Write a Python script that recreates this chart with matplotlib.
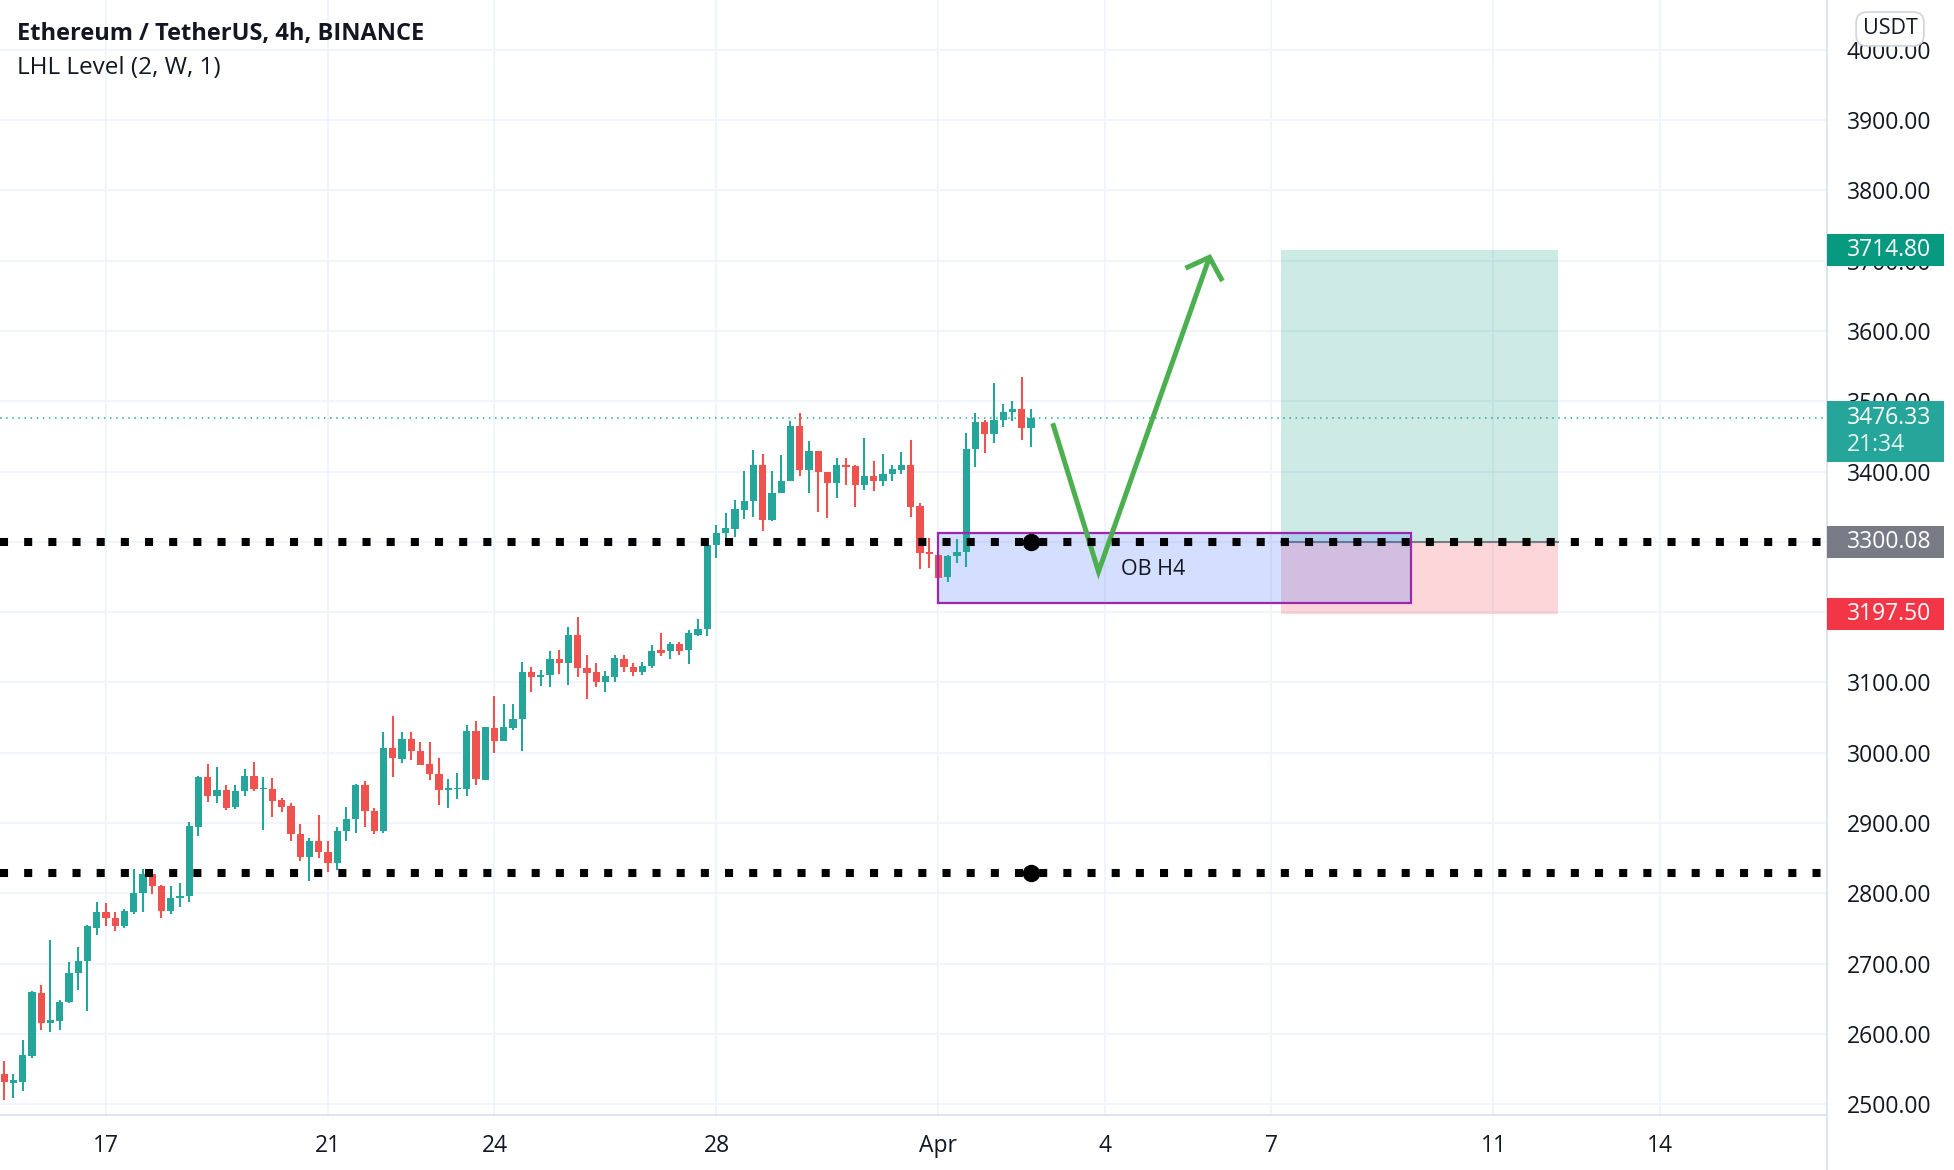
import matplotlib
matplotlib.use("Agg")
import matplotlib.pyplot as plt
import matplotlib.dates as mdates
import matplotlib.transforms as mtransforms
from matplotlib.patches import Rectangle
from matplotlib.lines import Line2D
import pandas as pd

plt.rcParams['font.family'] = ['Open Sans', 'DejaVu Sans']

# ETH/USDT 4h candles
opens = [2543, 2530, 2532, 2569, 2658, 2616, 2619, 2645, 2686, 2703, 2751,
         2773, 2765, 2754, 2773, 2800, 2828, 2811, 2775, 2793, 2796, 2895,
         2965, 2938, 2947, 2923, 2945, 2967, 2948, 2949, 2933, 2924, 2885,
         2852, 2874, 2859, 2843, 2888, 2906, 2954, 2917, 2888, 3006, 2991,
         3019, 3003, 2984, 2970, 2947, 2948, 2948, 3031, 2961, 3035, 3016,
         3035, 3048, 3115, 3107, 3110, 3134, 3127, 3168, 3120, 3115, 3101,
         3108, 3134, 3122, 3115, 3123, 3146, 3144, 3154, 3146, 3168, 3176,
         3296, 3312, 3318, 3345, 3358, 3409, 3331, 3369, 3387, 3465, 3402,
         3429, 3400, 3383, 3409, 3408, 3381, 3394, 3386, 3397, 3402, 3409,
         3351, 3285, 3281, 3250, 3280, 3285, 3432, 3471, 3454, 3474, 3484,
         3489, 3462]
highs = [2562, 2543, 2591, 2661, 2669, 2734, 2648, 2702, 2723, 2755, 2787,
         2786, 2774, 2777, 2834, 2834, 2829, 2812, 2810, 2815, 2901, 2967,
         2984, 2979, 2954, 2954, 2977, 2987, 2966, 2964, 2936, 2929, 2899,
         2878, 2911, 2875, 2895, 2923, 2955, 2960, 2922, 3029, 3052, 3029,
         3029, 3015, 3015, 2993, 2963, 2971, 3039, 3045, 3037, 3080, 3070,
         3070, 3129, 3122, 3117, 3144, 3146, 3179, 3193, 3139, 3128, 3116,
         3139, 3139, 3128, 3129, 3153, 3170, 3158, 3158, 3175, 3190, 3298,
         3324, 3341, 3359, 3401, 3431, 3425, 3401, 3424, 3472, 3483, 3444,
         3429, 3400, 3419, 3419, 3409, 3447, 3415, 3425, 3409, 3428, 3445,
         3355, 3305, 3284, 3281, 3304, 3455, 3483, 3473, 3526, 3496, 3500,
         3534, 3489]
lows = [2506, 2509, 2519, 2566, 2606, 2603, 2606, 2644, 2662, 2632, 2740,
        2753, 2746, 2751, 2771, 2774, 2799, 2765, 2770, 2780, 2788, 2882,
        2930, 2929, 2919, 2920, 2939, 2945, 2890, 2908, 2915, 2875, 2846,
        2817, 2850, 2830, 2833, 2874, 2886, 2894, 2884, 2886, 2965, 2985,
        2990, 2982, 2961, 2925, 2921, 2934, 2938, 2954, 2961, 2999, 3016,
        3033, 3003, 3086, 3095, 3094, 3112, 3096, 3108, 3076, 3094, 3086,
        3100, 3115, 3109, 3110, 3121, 3138, 3134, 3139, 3126, 3166, 3166,
        3277, 3305, 3307, 3332, 3335, 3316, 3330, 3369, 3387, 3394, 3369,
        3343, 3334, 3363, 3381, 3349, 3374, 3372, 3379, 3386, 3397, 3336,
        3262, 3263, 3213, 3243, 3270, 3264, 3406, 3427, 3440, 3463, 3472,
        3445, 3435]
closes = [2531, 2534, 2570, 2659, 2616, 2620, 2646, 2686, 2703, 2753, 2773,
          2765, 2754, 2775, 2800, 2828, 2810, 2775, 2793, 2796, 2896, 2965,
          2938, 2947, 2922, 2946, 2967, 2948, 2950, 2932, 2923, 2885, 2852,
          2874, 2859, 2843, 2889, 2906, 2954, 2917, 2888, 3006, 2992, 3019,
          3002, 2983, 2969, 2947, 2949, 2950, 3031, 2962, 3036, 3017, 3036,
          3048, 3115, 3107, 3111, 3134, 3127, 3168, 3120, 3114, 3101, 3109,
          3135, 3122, 3115, 3123, 3145, 3142, 3154, 3144, 3170, 3176, 3295,
          3312, 3319, 3346, 3358, 3409, 3331, 3369, 3387, 3465, 3402, 3429,
          3400, 3383, 3409, 3407, 3381, 3394, 3386, 3396, 3403, 3409, 3350,
          3284, 3282, 3249, 3280, 3286, 3432, 3471, 3454, 3474, 3484, 3489,
          3462, 3476.33]
times = pd.date_range("2022-03-15 04:00", periods=len(opens), freq="4h")

tick_dates = ["2022-03-17", "2022-03-21", "2022-03-24", "2022-03-28", "2022-04-01",
              "2022-04-04", "2022-04-07", "2022-04-11", "2022-04-14"]
tick_labels = ["17", "21", "24", "28", "Apr", "4", "7", "11", "14"]
price_ticks = list(range(2500, 4001, 100))

# levels / drawings
lhl_upper = 3300.08
lhl_lower = 2829
last_price = 3476.33
countdown = "21:34"
tp_price = 3714.80
entry_price = 3300.08
sl_price = 3197.50
ob_top, ob_bottom = 3312, 3213
ob_start, ob_end = "2022-04-01 00:00", "2022-04-09 12:10"
pos_start, pos_end = "2022-04-07 04:05", "2022-04-12 03:50"
path_times = ["2022-04-03 01:24", "2022-04-03 21:12", "2022-04-05 21:12"]
path_prices = [3468.7, 3257.6, 3704.8]
head_times = ["2022-04-05 10:48", "2022-04-05 21:12", "2022-04-06 02:48"]
head_prices = [3689.2, 3704.8, 3671.1]
ob_label_time, ob_label_price = "2022-04-04 20:40", 3261

UP = "#26a69a"
DOWN = "#ef5350"
TXT = "#131722"

W, H = 1954, 1170
fig = plt.figure(figsize=(W / 100, H / 100), dpi=100)
ax = fig.add_axes([0, 55 / H, 1827 / W, 1115 / H])

x = mdates.date2num(times)
step = 4 / 24
for xi, o, h, l, c in zip(x, opens, highs, lows, closes):
    col = UP if c >= o else DOWN
    ax.vlines(xi, l, h, color=col, lw=1.5, zorder=3)
    lo, hi = min(o, c), max(o, c)
    ax.bar(xi, max(hi - lo, 2.2), width=step * 0.78, bottom=lo, color=col,
           linewidth=0, zorder=4)

def tnum(s):
    return mdates.date2num(pd.Timestamp(s))

# long position tool
p0, p1 = tnum(pos_start), tnum(pos_end)
ax.add_patch(Rectangle((p0, entry_price), p1 - p0, tp_price - entry_price,
                       facecolor="#089981", alpha=0.2, linewidth=0, zorder=1))
ax.add_patch(Rectangle((p0, sl_price), p1 - p0, entry_price - sl_price,
                       facecolor="#f23645", alpha=0.2, linewidth=0, zorder=1))
ax.plot([p0, p1], [entry_price, entry_price], color="#787b86", lw=1.5, zorder=2)

# order block
o0, o1 = tnum(ob_start), tnum(ob_end)
ax.add_patch(Rectangle((o0, ob_bottom), o1 - o0, ob_top - ob_bottom,
                       facecolor="#2962ff", alpha=0.2, linewidth=0, zorder=2))
ax.add_patch(Rectangle((o0, ob_bottom), o1 - o0, ob_top - ob_bottom,
                       facecolor="none", edgecolor="#9c27b0", linewidth=1.6, zorder=5))
ax.text(tnum(ob_label_time), ob_label_price, "OB H4", fontsize=15.5, color=TXT,
        ha="center", va="center", zorder=6)

# projected path arrow
ax.plot([tnum(t) for t in path_times], path_prices, color="#4caf50", lw=3.6,
        solid_joinstyle="miter", solid_capstyle="butt", zorder=6)
ax.plot([tnum(t) for t in head_times], head_prices, color="#4caf50", lw=3.6,
        solid_joinstyle="miter", solid_capstyle="butt", zorder=6)

# LHL levels
xmin = tnum("2022-03-15 02:10")
xmax = tnum("2022-04-17 00:14")
for lvl in (lhl_upper, lhl_lower):
    ax.plot([xmin, xmax], [lvl, lvl], color="black", lw=5.8, linestyle=(0, (1, 2)),
            dash_capstyle="butt", zorder=7)
    ax.plot([x[-1]], [lvl], "o", color="black", markersize=11.5, zorder=8)

# current price line
ax.axhline(last_price, color=UP, lw=1.1, linestyle=(0, (1, 3)), zorder=2)

ax.set_xlim(xmin, xmax)
ax.set_ylim(2484.6, 4070.8)

ax.set_xticks([tnum(d) for d in tick_dates])
ax.set_xticklabels(tick_labels)
ax.yaxis.tick_right()
ax.set_yticks(price_ticks)
ax.set_yticklabels([f"{p:.2f}" for p in price_ticks])
ax.tick_params(axis="y", length=0, pad=14, labelsize=16.5, labelcolor=TXT)
ax.tick_params(axis="x", length=0, pad=14, labelsize=16.5, labelcolor=TXT)
ax.grid(True, color="#f0f3fa", lw=1.3, zorder=0)
ax.set_axisbelow(True)
for s in ("top", "left"):
    ax.spines[s].set_visible(False)
for s in ("right", "bottom"):
    ax.spines[s].set_color("#e0e3eb")
    ax.spines[s].set_linewidth(1.4)
fig.add_artist(Line2D([1827 / W, 1827 / W], [0, 55 / H], color="#e0e3eb", lw=1.4))

# price tags on the scale
blend = mtransforms.blended_transform_factory(ax.transAxes, ax.transData)
tag_w = 117 / 1827
half = 16 / 0.703
tags = [(tp_price, "#089981"), (lhl_upper, "#787b86"), (sl_price, "#f23645")]
for price, col in tags:
    ax.add_patch(Rectangle((1.0, price - half), tag_w, 2 * half, transform=blend,
                           facecolor=col, linewidth=0, clip_on=False, zorder=20))
    ax.text(1.0 + 20 / 1827, price, f"{price:.2f}", transform=blend, color="white",
            fontsize=16.5, va="center", ha="left", zorder=21, clip_on=False)

top_px, bot_px = 401, 462
box_top = 2500 + (1104.3 - top_px) / 0.703
box_bot = 2500 + (1104.3 - bot_px) / 0.703
ax.add_patch(Rectangle((1.0, box_bot), tag_w, box_top - box_bot, transform=blend,
                       facecolor=UP, linewidth=0, clip_on=False, zorder=20))
ax.text(1.0 + 20 / 1827, last_price, f"{last_price:.2f}", transform=blend,
        color="white", fontsize=16.5, va="center", ha="left", zorder=21)
ax.text(1.0 + 20 / 1827, 2500 + (1104.3 - 445) / 0.703, countdown, transform=blend,
        color="#e6f4f2", fontsize=16.5, va="center", ha="left", zorder=21)

fig.text(1890 / W, 1 - 29 / H, "USDT", fontsize=15.5, color=TXT, ha="center",
         va="center", zorder=30,
         bbox=dict(boxstyle="round,pad=0.3,rounding_size=0.5", facecolor="white",
                   edgecolor="#d1d4dc", linewidth=1.2))

fig.text(17 / W, 1 - 34 / H, "Ethereum / TetherUS, 4h, BINANCE", fontsize=17,
         fontweight="bold", color=TXT, va="center", ha="left")
fig.text(17 / W, 1 - 68 / H, "LHL Level (2, W, 1)", fontsize=17.5, color=TXT,
         va="center", ha="left")

fig.savefig("out.png", dpi=100)
